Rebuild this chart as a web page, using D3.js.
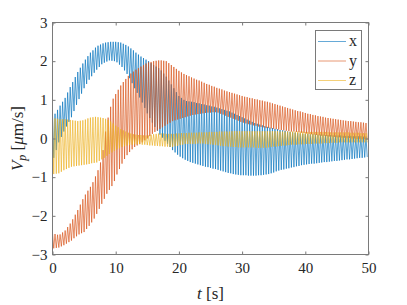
<!DOCTYPE html>
<html>
<head>
<meta charset="utf-8">
<script src="https://cdn.jsdelivr.net/npm/d3@7"></script>
<style>
  html, body { margin: 0; padding: 0; background: #fff; }
  svg { display: block; font-family: "Liberation Serif", "Times New Roman", serif; }
  svg text { font-family: "Liberation Serif", "Times New Roman", serif; }
  .tick text { fill: #262626; font-size: 15px; }
  .tick line { stroke: #7a7a7a; }
</style>
</head>
<body>
<svg id="chart" width="407" height="305"></svg>
<script>
// Peak k sits at t = k * PERIOD, trough k at t = k * PERIOD + PERIOD / 2.
const PERIOD = 0.4; // s

const xUpper = [
  0.60, 0.64, 0.74, 0.85, 0.95, 1.05, 1.19, 1.33, 1.46, 1.59,
  1.72, 1.83, 1.94, 2.04, 2.13, 2.22, 2.28, 2.35, 2.40, 2.43,
  2.46, 2.48, 2.49, 2.50, 2.50, 2.50, 2.49, 2.48, 2.45, 2.42,
  2.38, 2.33, 2.28, 2.22, 2.17, 2.12, 2.08, 2.04, 2.00, 1.95,
  1.90, 1.86, 1.82, 1.76, 1.68, 1.60, 1.50, 1.40, 1.30, 1.20,
  1.10, 1.05, 1.00, 0.97, 0.96, 0.95, 0.94, 0.92, 0.91, 0.89,
  0.88, 0.86, 0.85, 0.83, 0.82, 0.80, 0.78, 0.76, 0.74, 0.72,
  0.70, 0.67, 0.64, 0.61, 0.58, 0.55, 0.52, 0.49, 0.46, 0.43,
  0.40, 0.38, 0.36, 0.34, 0.32, 0.30, 0.28, 0.27, 0.25, 0.24,
  0.22, 0.21, 0.20, 0.18, 0.17, 0.16, 0.15, 0.14, 0.13, 0.12,
  0.12, 0.12, 0.11, 0.11, 0.11, 0.10, 0.10, 0.10, 0.09, 0.09,
  0.09, 0.08, 0.08, 0.08, 0.08, 0.07, 0.07, 0.07, 0.07, 0.06,
  0.06, 0.06, 0.06, 0.05, 0.05
];
const xLower = [
  -0.50, -0.30, -0.10, 0.04, 0.18, 0.31, 0.43, 0.55, 0.71, 0.87,
  1.02, 1.16, 1.30, 1.41, 1.52, 1.61, 1.70, 1.78, 1.85, 1.92,
  1.96, 1.99, 2.02, 2.01, 2.00, 1.97, 1.91, 1.85, 1.76, 1.67,
  1.56, 1.43, 1.30, 1.18, 1.06, 0.93, 0.79, 0.65, 0.53, 0.41,
  0.30, 0.20, 0.10, 0.02, -0.06, -0.14, -0.22, -0.30, -0.36, -0.42,
  -0.47, -0.51, -0.55, -0.58, -0.61, -0.63, -0.65, -0.67, -0.69, -0.71,
  -0.73, -0.74, -0.76, -0.78, -0.79, -0.81, -0.83, -0.85, -0.87, -0.89,
  -0.90, -0.92, -0.93, -0.94, -0.95, -0.95, -0.95, -0.96, -0.96, -0.96,
  -0.96, -0.95, -0.95, -0.94, -0.93, -0.92, -0.90, -0.88, -0.85, -0.83,
  -0.81, -0.80, -0.78, -0.77, -0.75, -0.74, -0.72, -0.71, -0.69, -0.68,
  -0.67, -0.66, -0.65, -0.65, -0.64, -0.63, -0.62, -0.61, -0.61, -0.60,
  -0.59, -0.58, -0.58, -0.57, -0.56, -0.55, -0.54, -0.54, -0.53, -0.52,
  -0.51, -0.50, -0.50, -0.49, -0.48
];

const yUpper = [
  -2.45, -2.47, -2.49, -2.48, -2.43, -2.38, -2.29, -2.20, -2.09, -1.97,
  -1.85, -1.71, -1.57, -1.45, -1.35, -1.25, -1.13, -0.98, -0.82, -0.62,
  -0.30, 0.18, 0.54, 0.82, 1.03, 1.15, 1.26, 1.37, 1.46, 1.54,
  1.62, 1.68, 1.73, 1.78, 1.82, 1.86, 1.90, 1.94, 1.97, 1.98,
  2.00, 2.01, 2.02, 2.02, 2.01, 2.00, 1.95, 1.90, 1.85, 1.80,
  1.75, 1.71, 1.67, 1.64, 1.61, 1.58, 1.55, 1.52, 1.50, 1.47,
  1.44, 1.41, 1.39, 1.36, 1.34, 1.31, 1.29, 1.27, 1.24, 1.22,
  1.20, 1.18, 1.16, 1.14, 1.12, 1.10, 1.08, 1.07, 1.05, 1.04,
  1.02, 1.01, 0.99, 0.98, 0.96, 0.95, 0.93, 0.91, 0.89, 0.87,
  0.85, 0.83, 0.81, 0.79, 0.77, 0.75, 0.73, 0.71, 0.70, 0.68,
  0.66, 0.64, 0.63, 0.61, 0.60, 0.58, 0.57, 0.56, 0.54, 0.53,
  0.52, 0.51, 0.50, 0.49, 0.48, 0.47, 0.46, 0.45, 0.45, 0.44,
  0.43, 0.42, 0.42, 0.41, 0.40
];
const yLower = [
  -2.84, -2.83, -2.82, -2.79, -2.76, -2.72, -2.68, -2.64, -2.58, -2.53,
  -2.48, -2.45, -2.42, -2.34, -2.26, -2.17, -2.07, -1.95, -1.82, -1.69,
  -1.56, -1.43, -1.33, -1.23, -1.10, -0.93, -0.79, -0.65, -0.53, -0.43,
  -0.35, -0.28, -0.22, -0.18, -0.14, -0.10, -0.05, 0.00, 0.06, 0.12,
  0.17, 0.21, 0.25, 0.29, 0.33, 0.37, 0.41, 0.45, 0.47, 0.49,
  0.51, 0.53, 0.55, 0.57, 0.59, 0.61, 0.62, 0.63, 0.64, 0.65,
  0.66, 0.67, 0.67, 0.68, 0.68, 0.67, 0.64, 0.62, 0.59, 0.56,
  0.54, 0.51, 0.49, 0.46, 0.43, 0.41, 0.39, 0.37, 0.36, 0.34,
  0.33, 0.31, 0.30, 0.29, 0.27, 0.27, 0.26, 0.25, 0.24, 0.23,
  0.22, 0.21, 0.20, 0.19, 0.18, 0.18, 0.17, 0.16, 0.15, 0.14,
  0.13, 0.12, 0.11, 0.10, 0.09, 0.08, 0.07, 0.07, 0.06, 0.05,
  0.05, 0.04, 0.03, 0.03, 0.02, 0.02, 0.01, 0.01, 0.00, 0.00,
  -0.01, -0.01, -0.02, -0.02, -0.03
];

const zUpper = [
  0.54, 0.52, 0.51, 0.50, 0.50, 0.50, 0.49, 0.48, 0.47, 0.46,
  0.45, 0.46, 0.47, 0.49, 0.52, 0.54, 0.55, 0.56, 0.55, 0.54,
  0.53, 0.51, 0.48, 0.44, 0.39, 0.33, 0.29, 0.24, 0.21, 0.18,
  0.15, 0.13, 0.11, 0.10, 0.09, 0.09, 0.08, 0.08, 0.08, 0.10,
  0.11, 0.12, 0.13, 0.13, 0.13, 0.12, 0.12, 0.12, 0.12, 0.13,
  0.13, 0.14, 0.14, 0.14, 0.15, 0.15, 0.15, 0.15, 0.16, 0.16,
  0.16, 0.16, 0.17, 0.17, 0.17, 0.17, 0.18, 0.18, 0.18, 0.18,
  0.18, 0.19, 0.19, 0.19, 0.19, 0.19, 0.19, 0.19, 0.19, 0.19,
  0.19, 0.19, 0.19, 0.19, 0.19, 0.19, 0.19, 0.19, 0.19, 0.19,
  0.18, 0.18, 0.18, 0.18, 0.18, 0.18, 0.18, 0.18, 0.18, 0.18,
  0.17, 0.17, 0.17, 0.17, 0.17, 0.17, 0.17, 0.17, 0.17, 0.17,
  0.16, 0.16, 0.16, 0.16, 0.16, 0.16, 0.16, 0.16, 0.15, 0.15,
  0.15, 0.15, 0.14, 0.14, 0.14
];
const zLower = [
  -0.92, -0.91, -0.90, -0.86, -0.82, -0.79, -0.76, -0.73, -0.72, -0.71,
  -0.70, -0.69, -0.68, -0.67, -0.66, -0.64, -0.63, -0.62, -0.58, -0.54,
  -0.50, -0.45, -0.40, -0.36, -0.32, -0.28, -0.25, -0.22, -0.20, -0.18,
  -0.17, -0.16, -0.15, -0.15, -0.15, -0.16, -0.16, -0.17, -0.18, -0.18,
  -0.19, -0.19, -0.20, -0.20, -0.21, -0.21, -0.22, -0.22, -0.20, -0.19,
  -0.17, -0.16, -0.14, -0.14, -0.14, -0.14, -0.14, -0.13, -0.13, -0.13,
  -0.14, -0.15, -0.15, -0.16, -0.17, -0.18, -0.19, -0.20, -0.20, -0.21,
  -0.21, -0.22, -0.22, -0.23, -0.23, -0.23, -0.23, -0.23, -0.23, -0.23,
  -0.24, -0.24, -0.24, -0.24, -0.24, -0.23, -0.22, -0.21, -0.21, -0.20,
  -0.19, -0.18, -0.18, -0.17, -0.16, -0.16, -0.16, -0.15, -0.15, -0.15,
  -0.14, -0.14, -0.14, -0.13, -0.13, -0.13, -0.13, -0.12, -0.12, -0.12,
  -0.11, -0.11, -0.11, -0.10, -0.10, -0.10, -0.10, -0.10, -0.10, -0.10,
  -0.10, -0.10, -0.10, -0.10, -0.10
];

const seriesNames = ['x', 'y', 'z'];
const xTicks = [0, 10, 20, 30, 40, 50];
const yTicks = [-3, -2, -1, 0, 1, 2, 3];

(function() {
    'use strict';

    const colors = ['#0072BD', '#D95319', '#EDB120'];
    const left = 52.5, right = 368.5, top = 22.5, bottom = 254.5;

    const svg = d3.select('#chart');

    const x = d3.scaleLinear().domain([0, 50]).range([left, right]);
    const y = d3.scaleLinear().domain([-3, 3]).range([bottom, top]);

    // Zigzag through alternating peaks and troughs
    function buildSeries(upper, lower) {
        const pts = [];
        upper.forEach((u, k) => {
            pts.push([k * PERIOD, u]);
            if (k < lower.length) pts.push([k * PERIOD + PERIOD / 2, lower[k]]);
        });
        return pts;
    }

    const series = [
        buildSeries(xUpper, xLower),
        buildSeries(yUpper, yLower),
        buildSeries(zUpper, zLower)
    ];

    svg.append('defs').append('clipPath').attr('id', 'plot-clip')
        .append('rect')
        .attr('x', left).attr('y', top)
        .attr('width', right - left).attr('height', bottom - top);

    // Lines
    const line = d3.line().x(d => x(d[0])).y(d => y(d[1]));
    const lineGroup = svg.append('g').attr('clip-path', 'url(#plot-clip)');
    series.forEach((pts, i) => {
        lineGroup.append('path')
            .attr('d', line(pts))
            .attr('fill', 'none')
            .attr('stroke', colors[i])
            .attr('stroke-opacity', 0.65)
            .attr('stroke-width', 1);
    });

    // Axes with inward ticks on all four sides
    const tickLen = 3;
    const fmt = d3.format('d');
    function tidy(g) {
        g.attr('font-family', null).attr('font-size', null);
        g.select('.domain').remove();
    }
    svg.append('g')
        .attr('transform', `translate(0,${bottom})`)
        .call(d3.axisBottom(x).tickValues(xTicks).tickSize(-tickLen).tickPadding(8).tickFormat(fmt))
        .call(tidy);
    svg.append('g')
        .attr('transform', `translate(0,${top})`)
        .call(d3.axisTop(x).tickValues(xTicks).tickSize(-tickLen).tickFormat(''))
        .call(tidy);
    svg.append('g')
        .attr('transform', `translate(${left},0)`)
        .call(d3.axisLeft(y).tickValues(yTicks).tickSize(-tickLen).tickPadding(5).tickFormat(fmt))
        .call(tidy);
    svg.append('g')
        .attr('transform', `translate(${right},0)`)
        .call(d3.axisRight(y).tickValues(yTicks).tickSize(-tickLen).tickFormat(''))
        .call(tidy);

    // Frame
    svg.append('rect')
        .attr('x', left).attr('y', top)
        .attr('width', right - left).attr('height', bottom - top)
        .attr('fill', 'none')
        .attr('stroke', '#7a7a7a')
        .attr('stroke-width', 1);

    // Axis titles
    const xTitle = svg.append('text')
        .attr('x', (left + right) / 2)
        .attr('y', 299)
        .attr('text-anchor', 'middle')
        .attr('font-size', 17)
        .attr('fill', '#262626');
    xTitle.append('tspan').attr('font-style', 'italic').text('t');
    xTitle.append('tspan').text(' [s]');

    const yTitle = svg.append('text')
        .attr('transform', `translate(23,${(top + bottom) / 2}) rotate(-90)`)
        .attr('text-anchor', 'middle')
        .attr('font-size', 17)
        .attr('fill', '#262626');
    yTitle.append('tspan').attr('font-style', 'italic').text('V');
    yTitle.append('tspan').attr('font-style', 'italic').attr('font-size', 12).attr('dy', 3).text('p');
    yTitle.append('tspan').attr('dy', -3).text(' [');
    yTitle.append('tspan').attr('font-style', 'italic').text('μ');
    yTitle.append('tspan').text('m/s]');

    // Legend
    const legend = svg.append('g');
    legend.append('rect')
        .attr('x', 315.5).attr('y', 30.5)
        .attr('width', 46).attr('height', 59)
        .attr('fill', '#fff')
        .attr('stroke', '#7a7a7a')
        .attr('stroke-width', 1);
    const legendY = d3.scalePoint().domain(seriesNames).range([41.5, 80.5]);
    seriesNames.forEach((name, i) => {
        legend.append('line')
            .attr('x1', 318).attr('x2', 346)
            .attr('y1', legendY(name)).attr('y2', legendY(name))
            .attr('stroke', colors[i])
            .attr('stroke-opacity', 0.6)
            .attr('stroke-width', 1);
        legend.append('text')
            .attr('x', 349)
            .attr('y', legendY(name))
            .attr('dy', '0.3em')
            .attr('font-size', 16)
            .attr('fill', '#262626')
            .text(name);
    });
})();
</script>
</body>
</html>
